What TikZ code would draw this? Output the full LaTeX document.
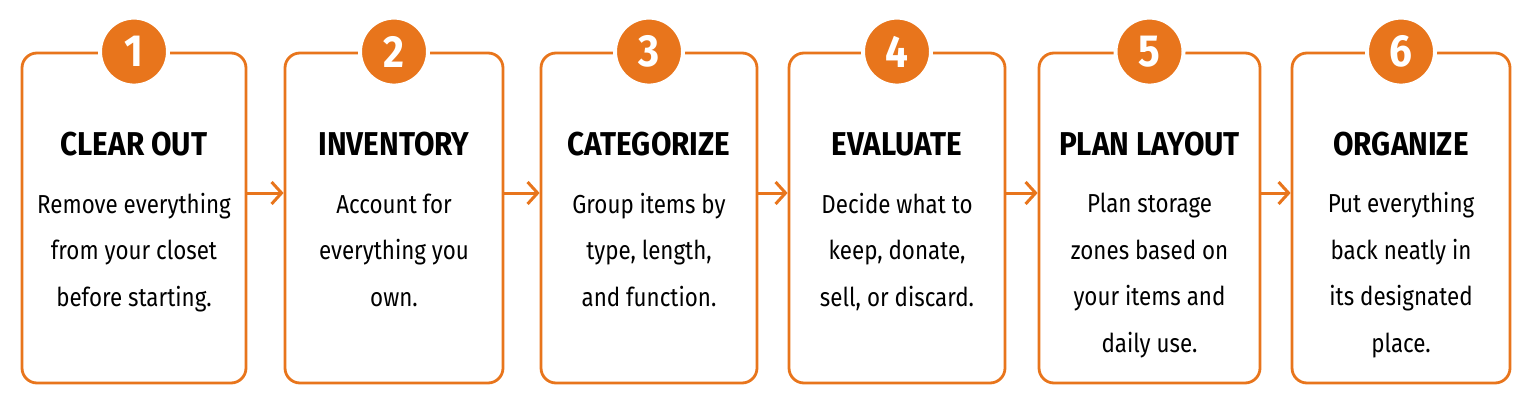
\documentclass[tikz,border=0pt]{standalone}
\usepackage{fontspec}
\setmainfont{Fira Sans}[FakeStretch=0.86]
\newfontfamily\headfont{Fira Sans}[FakeStretch=0.9]
\usetikzlibrary{arrows.meta}

\definecolor{steporange}{HTML}{E8751C}

\tikzset{
  card/.style={draw=steporange, line width=2.8pt, rounded corners=15pt, fill=white,
    minimum height=330pt, inner sep=0pt},
  badge/.style={circle, fill=steporange, draw=white, line width=4pt, minimum size=68pt,
    inner sep=0pt, text=white, font=\headfont\fontsize{45}{45}\selectfont\bfseries},
  heading/.style={font=\headfont\fontsize{33}{33}\selectfont\bfseries, anchor=base, inner sep=0pt},
  blurb/.style={font=\fontsize{26}{46.5}\selectfont, align=center, anchor=base, inner sep=0pt},
  link/.style={draw=steporange, line width=3pt, -{Straight Barb[length=10pt,width=22pt]}}
}

\begin{document}
\begin{tikzpicture}[x=1pt, y=1pt]
        \useasboundingbox (0,0) rectangle (1530,405);

        % cards
        \node[card, minimum width=224pt] (c1) at (134,187) {};
        \node[card, minimum width=218pt] (c2) at (394,187) {};
        \node[card, minimum width=216pt] (c3) at (649,187) {};
        \node[card, minimum width=216pt] (c4) at (897,187) {};
        \node[card, minimum width=221pt] (c5) at (1149.5,187) {};
        \node[card, minimum width=218pt] (c6) at (1401,187) {};

        % numbers
        \node[badge] (n1) at (c1.north) {1};
        \node[badge] (n2) at (c2.north) {2};
        \node[badge] (n3) at (c3.north) {3};
        \node[badge] (n4) at (c4.north) {4};
        \node[badge] (n5) at (c5.north) {5};
        \node[badge] (n6) at (c6.north) {6};

        % titles
        \node[heading] (h1) at (134,250) {CLEAR OUT};
        \node[heading] (h2) at (394,250) {INVENTORY};
        \node[heading] (h3) at (649,250) {CATEGORIZE};
        \node[heading] (h4) at (897,250) {EVALUATE};
        \node[heading] (h5) at (1149.5,250) {PLAN LAYOUT};
        \node[heading] (h6) at (1401,250) {ORGANIZE};

        % descriptions (base = last line)
        \node[blurb] (d1) at (134,99) {Remove everything\\from your closet\\before starting.};
        \node[blurb] (d2) at (394,99) {Account for\\everything you\\own.};
        \node[blurb] (d3) at (649,99) {Group items by\\type, length,\\and function.};
        \node[blurb] (d4) at (897,99) {Decide what to\\keep, donate,\\sell, or discard.};
        \node[blurb] (d5) at (1149.5,53) {Plan storage\\zones based on\\your items and\\daily use.};
        \node[blurb] (d6) at (1401,53) {Put everything\\back neatly in\\its designated\\place.};

        \draw[link] ([yshift=25pt]c1.east) to ([yshift=25pt]c2.west);
        \draw[link] ([yshift=25pt]c2.east) to ([yshift=25pt]c3.west);
        \draw[link] ([yshift=25pt]c3.east) to ([yshift=25pt]c4.west);
        \draw[link] ([yshift=25pt]c4.east) to ([yshift=25pt]c5.west);
        \draw[link] ([yshift=25pt]c5.east) to ([yshift=25pt]c6.west);
    \end{tikzpicture}
\end{document}
